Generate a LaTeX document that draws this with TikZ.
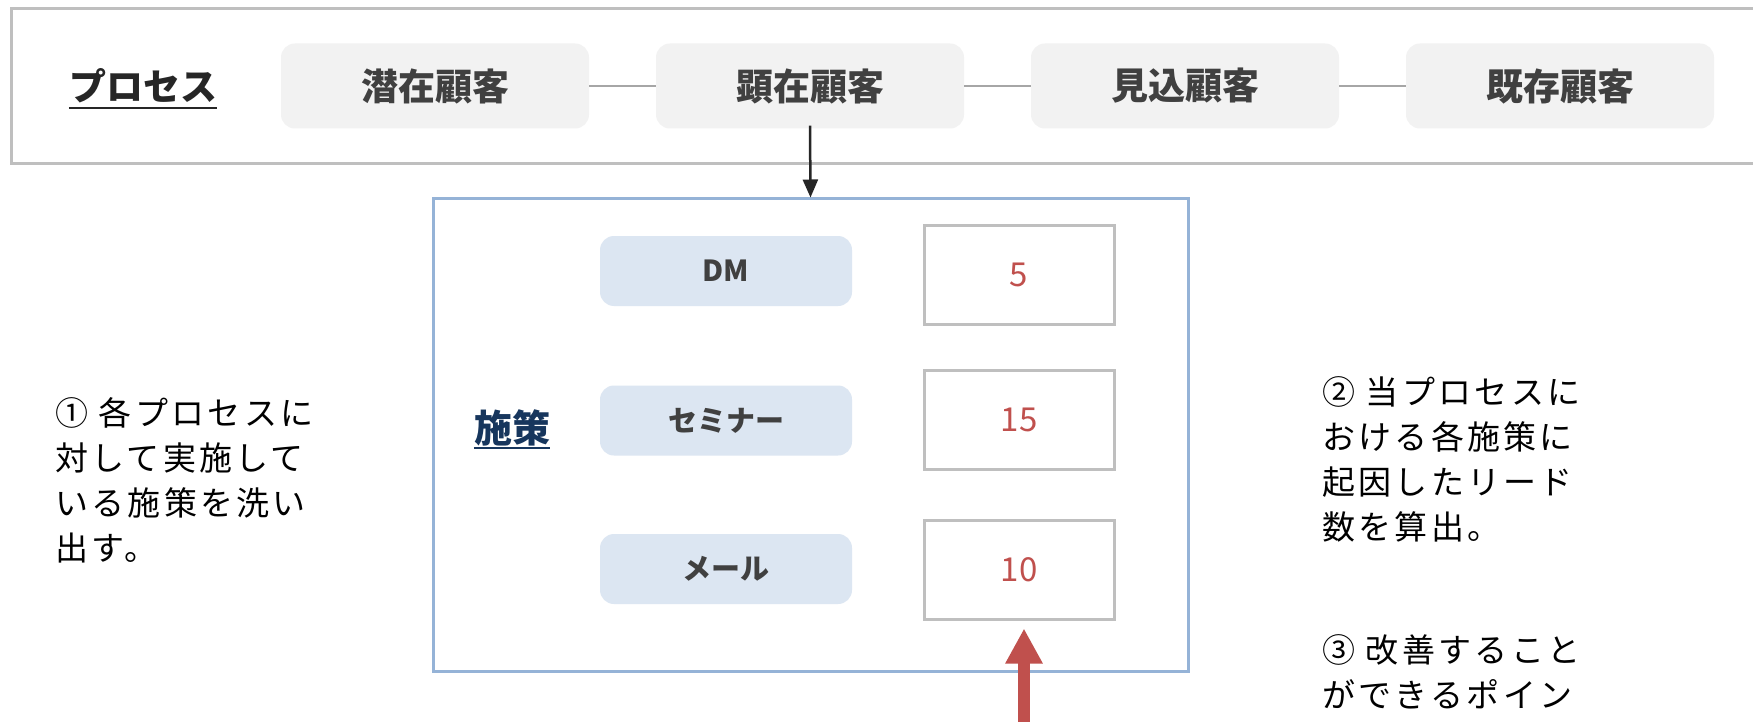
\documentclass[tikz,border=0pt]{standalone}
\usepackage{fontspec}
\setmainfont{Noto Sans CJK JP}
\newfontfamily\annotfont{Noto Sans CJK JP}[LetterSpace=10]
\usetikzlibrary{arrows.meta}
\definecolor{outergray}{HTML}{BFBFBF}
\definecolor{procfill}{HTML}{F2F2F2}
\definecolor{textgray}{HTML}{404040}
\definecolor{conngray}{HTML}{A6A6A6}
\definecolor{bluestroke}{HTML}{95B3D7}
\definecolor{lbfill}{HTML}{DCE6F2}
\definecolor{redc}{HTML}{C0504D}
\definecolor{navy}{HTML}{17365D}
\definecolor{darkc}{HTML}{262626}
\tikzset{
  proc/.style={fill=procfill, rounded corners=14pt, minimum width=308pt, minimum height=85pt, inner sep=0pt, text=textgray, font=\fontsize{37}{42}\bfseries\selectfont},
  conn/.style={draw=conngray, line width=1.5pt},
  lbbox/.style={fill=lbfill, rounded corners=14pt, minimum width=252pt, minimum height=70pt, inner sep=0pt, text=textgray, font=\fontsize{29}{33}\bfseries\selectfont},
  numbox/.style={draw=outergray, line width=3pt, minimum width=190pt, minimum height=99pt, inner sep=0pt, text=redc, font=\fontsize{33}{36}\selectfont},
  annot/.style={font=\annotfont\fontsize{33}{45}\selectfont, align=left, inner sep=0pt, text=black, anchor=north west},
  blkarr/.style={draw=darkc, line width=2.5pt, -{Triangle[width=15pt 0 0,length=18pt 0 0]}},
  redarr/.style={draw=redc, line width=12pt, -{Triangle[width=35pt 0 0,length=35pt 0 0]}}
}
\begin{document}
\begin{tikzpicture}[x=1pt,y=-1pt]
\useasboundingbox (0,0) rectangle (1753,722);
\fill[white] (0,0) rectangle (1753,722);
% outer process frame
\draw[draw=outergray, line width=3pt] (1770,9) -- (11,9) -- (11,164) -- (1770,164);
% process label
\node[inner sep=0pt, text=darkc, font=\fontsize{37}{42}\bfseries\selectfont] (proclbl) at (143,86) {プロセス};
\draw[darkc, line width=2.5pt] (proclbl.west |- 0,108) -- (proclbl.east |- 0,108);
% process boxes
\node[proc] (p1) at (435,86) {潜在顧客};
\node[proc] (p2) at (810,86) {顕在顧客};
\node[proc] (p3) at (1185,86) {見込顧客};
\node[proc] (p4) at (1560,86) {既存顧客};
\draw[conn] (p1) -- (p2);
\draw[conn] (p2) -- (p3);
\draw[conn] (p3) -- (p4);
% measures frame
\node[draw=bluestroke, line width=3pt, minimum width=755pt, minimum height=472pt, inner sep=0pt] (blue) at (810.5,435) {};
\draw[blkarr] ([yshift=3pt]p2.south) -- (blue.north);
\node[inner sep=0pt, text=navy, font=\fontsize{38}{42}\bfseries\selectfont] (shisaku) at (512,428) {施策};
\draw[navy, line width=2pt] (shisaku.west |- 0,448) -- (shisaku.east |- 0,448);
\node[lbbox] (m1) at (726,271) {DM};
\node[lbbox] (m2) at (726,420.5) {セミナー};
\node[lbbox] (m3) at (726,569) {メール};
\node[numbox] (n1) at (1019,275) {5};
\node[numbox] (n2) at (1019,420) {15};
\node[numbox] (n3) at (1019,569.5) {10};
\coordinate (redbase) at (1024,740);
\draw[redarr] (redbase) -- ([xshift=5pt,yshift=-8pt]n3.south);
% annotations
\node[annot] (a1) at (55,397) {① 各プロセスに\\対して実施して\\いる施策を洗い\\出す。};
\node[annot] (a2) at (1322,376) {② 当プロセスに\\おける各施策に\\起因したリード\\数を算出。};
\node[annot] (a3) at (1322,634) {③ 改善すること\\ができるポイン};
\end{tikzpicture}
\end{document}
